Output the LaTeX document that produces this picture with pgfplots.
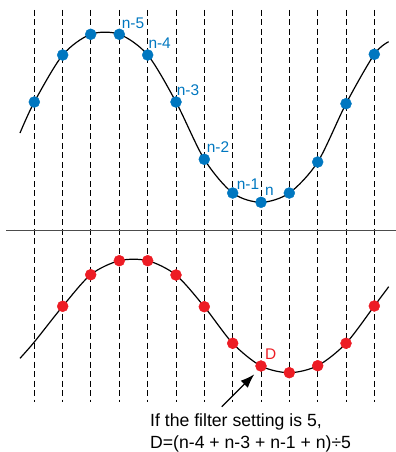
\documentclass[border=0pt]{standalone}
\usepackage{fontspec}
\setmainfont{Liberation Sans}
\usepackage{pgfplots}
\pgfplotsset{compat=1.18}
\usetikzlibrary{arrows.meta}
\definecolor{dotblue}{RGB}{0,119,192}
\definecolor{dotred}{RGB}{237,28,36}
\begin{document}
\begin{tikzpicture}
\begin{axis}[
  width=396bp, height=452bp, scale only axis,
  xmin=0, xmax=396, ymin=0, ymax=452, y dir=reverse,
  hide axis, clip=false, enlargelimits=false,
  unbounded coords=jump,
]
% vertical dashed sample lines
\addplot[black, line width=0.9bp, dash pattern=on 6bp off 3.5bp] coordinates {
(34.3,10) (34.3,402) (nan,nan)
(62.7,10) (62.7,402) (nan,nan)
(90.7,10) (90.7,402) (nan,nan)
(119.3,10) (119.3,402) (nan,nan)
(147.7,10) (147.7,402) (nan,nan)
(176,10) (176,402) (nan,nan)
(204.3,10) (204.3,402) (nan,nan)
(232.7,10) (232.7,402) (nan,nan)
(261,10) (261,402) (nan,nan)
(289.3,10) (289.3,402) (nan,nan)
(317.7,10) (317.7,402) (nan,nan)
(346,10) (346,402) (nan,nan)
(374.3,10) (374.3,402)
};
% separator
\addplot[black!70, line width=1bp] coordinates {(6,230.3) (396,230.3)};
% top raw signal
\addplot[black, line width=1.2bp, smooth] coordinates {
(20,133) (34.3,102) (62.7,55) (90.7,34.3) (119.3,34.3) (147.7,55) (176,102)
(204.3,159.3) (232.7,193) (261,202.3) (289.3,193) (317.7,162) (346,103.7)
(374.3,54.3) (388.7,41.7)};
\addplot[only marks, mark=*, mark size=5.5bp, color=dotblue] coordinates {
(34.3,102) (62.7,55) (90.7,34.3) (119.3,34.3) (147.7,55) (176,102)
(204.3,159.3) (232.7,193) (261,202.3) (289.3,193) (317.7,162) (346,103.7)
(374.3,54.3)};
% bottom filtered signal
\addplot[black, line width=1.2bp, smooth] coordinates {
(20,358.3) (34.3,342) (62.7,306.3) (90.7,274.7) (119.3,260.7) (147.7,260.7)
(176,275) (204.3,306.7) (232.7,343.3) (261,366) (289.3,372.7) (317.7,365.7)
(346,343.3) (374.3,306) (388.7,286.7)};
\addplot[only marks, mark=*, mark size=5.5bp, color=dotred] coordinates {
(62.7,306.3) (90.7,274.7) (119.3,260.7) (147.7,260.7)
(176,275) (204.3,306.7) (232.7,343.3) (261,366) (289.3,372.7) (317.7,365.7)
(346,343.3) (374.3,306)};
% labels
\begin{scope}[every node/.style={anchor=west, inner sep=0pt, text=dotblue, font=\fontsize{15.5}{18}\selectfont}]
\node at (axis cs:121.7,23.3) {n-5};
\node at (axis cs:148.3,43.3) {n-4};
\node at (axis cs:176.7,90) {n-3};
\node at (axis cs:206.7,147.3) {n-2};
\node at (axis cs:236.7,184) {n-1};
\node at (axis cs:265,191.7) {n};
\node[text=dotred] at (axis cs:265,354) {D};
\end{scope}
\draw[black, line width=1.2bp, -{Latex[length=14bp,width=10bp]}] (axis cs:221.7,406.7) -- (axis cs:254.3,374.3);
\node[anchor=base west, inner sep=0pt, font=\fontsize{17.7}{21}\selectfont] at (axis cs:150,426.5) {If the filter setting is 5,};
\node[anchor=base west, inner sep=0pt, font=\fontsize{17.7}{21}\selectfont] at (axis cs:150,448) {D=(n-4 + n-3 + n-1 + n)÷5};
\coordinate (BL) at (axis cs:0,452);
\coordinate (TR) at (axis cs:396,0);
\end{axis}
\pgfresetboundingbox
\path (BL) rectangle (TR);
\end{tikzpicture}
\end{document}
